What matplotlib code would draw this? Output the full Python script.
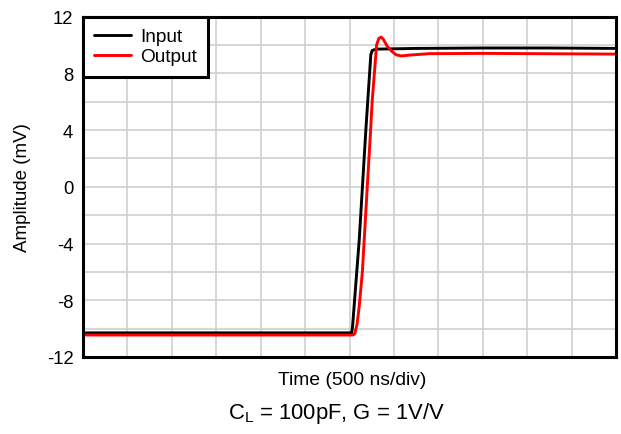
import matplotlib.pyplot as plt
from matplotlib.lines import Line2D

plt.rcParams['font.family'] = ['Liberation Sans', 'DejaVu Sans']

# time in ns (500 ns/div, 12 divisions)
input_t = [0, 3025, 3035, 3110, 3185, 3240, 3255, 3300, 3750, 4500, 5250, 6000]
input_mv = [-10.3, -10.3, -9.8, -3.7, 4.1, 9.3, 9.6, 9.7, 9.75, 9.78, 9.78, 9.75]

output_t = [0, 3040, 3060, 3085, 3110, 3145, 3200, 3235, 3255, 3280, 3305,
            3330, 3355, 3380, 3425, 3475, 3525, 3585, 3675, 3900, 4500, 6000]
output_mv = [-10.45, -10.45, -10.35, -9.7, -8.4, -6.0, 0.0, 3.7, 6.0, 8.0, 10.0,
             10.45, 10.55, 10.4, 9.9, 9.55, 9.3, 9.22, 9.28, 9.38, 9.4, 9.35]

y_major = [-12, -8, -4, 0, 4, 8, 12]
y_minor = [-10, -6, -2, 2, 6, 10]
x_grid = list(range(0, 6001, 500))

W, H = 621, 435
fig = plt.figure(figsize=(W / 100, H / 100), dpi=100)
ax = fig.add_axes([83 / W, 1 - 358 / H, 533 / W, 340.5 / H])

ax.plot(input_t, input_mv, color='black', lw=2.1, label='Input',
        solid_capstyle='round', solid_joinstyle='round')
ax.plot(output_t, output_mv, color='#ff0000', lw=2.1, label='Output',
        solid_capstyle='round', solid_joinstyle='round')

ax.set_xlim(0, 6000)
ax.set_ylim(-12, 12)
ax.set_xticks(x_grid)
ax.set_xticklabels([])
ax.set_yticks(y_major)
ax.set_yticklabels([str(v) for v in y_major], fontsize=13.3)
ax.set_yticks(y_minor, minor=True)
ax.tick_params(which='both', length=0, pad=7)
ax.grid(True, which='both', color='#cfcfcf', lw=1.2)
ax.set_axisbelow(True)
for s in ax.spines.values():
    s.set_linewidth(2.2)
    s.set_color('black')

fig.text(23 / W, 1 - 188 / H, 'Amplitude (mV)', rotation=90,
         ha='center', va='center', fontsize=13.5)
fig.text(352 / W, 1 - 385 / H, 'Time (500 ns/div)',
         ha='center', va='baseline', fontsize=13.9)
fig.text(336 / W, 1 - 419 / H, r'C$_\mathregular{L}$ = 100pF, G = 1V/V',
         ha='center', va='baseline', fontsize=15.8)

leg = ax.legend(loc='upper left', bbox_to_anchor=(0, 1), borderaxespad=0,
                fancybox=False, framealpha=1, edgecolor='black', fontsize=13.7,
                handlelength=1.9, handletextpad=0.5, labelspacing=0.15,
                borderpad=0.6)
leg.get_frame().set_linewidth(2.2)

fig.add_artist(Line2D([0, 1], [0.999, 0.999], color='#888888', lw=1.2,
                      transform=fig.transFigure))

fig.savefig('out.png', dpi=100)
